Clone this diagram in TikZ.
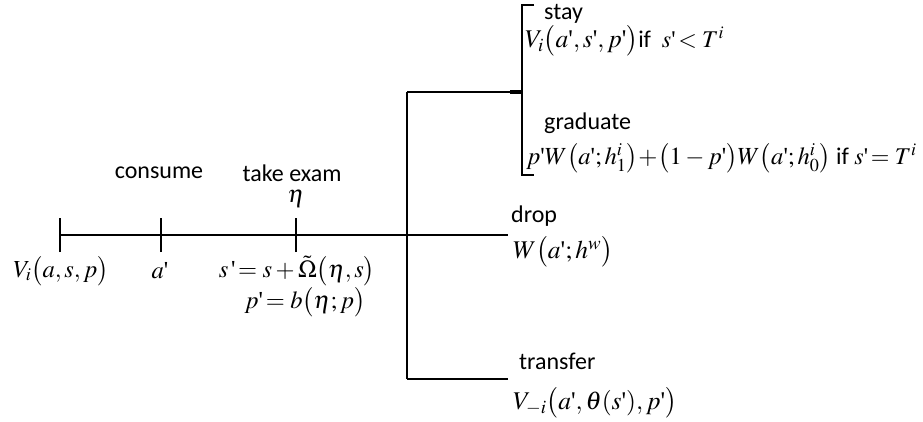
\documentclass[tikz,border=0pt]{standalone}
\usepackage{mathptmx}
\usepackage{fontspec}
\setmainfont{Liberation Serif}
\setsansfont{Carlito}
\newcommand\qq{\textnormal{\textquotesingle}}
\begin{document}
\begin{tikzpicture}[x=1pt,y=-1pt,
  ln/.style={line width=2.6pt},
  lbl/.style={font=\fontsize{24}{26}\selectfont\sffamily, inner sep=0pt},
  rlbl/.style={font=\fontsize{25.5}{27}\selectfont\sffamily, inner sep=0pt, anchor=west},
  mth/.style={font=\fontsize{24.5}{26}\selectfont, inner sep=0pt}]
\useasboundingbox (0,0) rectangle (923,421);
% timeline coordinates
\coordinate (t0) at (60,235);
\coordinate (t1) at (161,235);
\coordinate (t2) at (296,235);
\coordinate (j) at (407,235);
\coordinate (vtop) at (407,92);
\coordinate (vbot) at (407,379);
\coordinate (br) at (522,92);
\coordinate (dropend) at (508,235);
\coordinate (trend) at (508,379);
% lines
\draw[ln] (t0) -- (dropend);
\draw[ln] ([yshift=-17pt]t0) -- ([yshift=17pt]t0);
\draw[ln] ([yshift=-17pt]t1) -- ([yshift=17pt]t1);
\draw[ln] ([yshift=-17pt]t2) -- ([yshift=17pt]t2);
\draw[ln] (vtop) -- (vbot);
\draw[ln] (vtop) -- (br);
\draw[ln] (trend) -- (vbot);
\draw[line width=4pt] ([xshift=-12pt]br) -- (br);
\draw[ln] (534,5) -- (522,5) -- (522,175) -- (534,175);
% left labels
\node[lbl] (consume) at (159,173) {consume};
\node[lbl] (exam) at (292,173) {take exam};
\node[mth] (eta) at (296,199) {$\eta$};
\node[mth] (v0) at (61,271) {$V_i\bigl(a,s,p\bigr)$};
\node[mth] (ap) at (160,271) {$a\qq$};
\node[mth] (sp) at (297,271) {$s\,\qq\!=s+\tilde{\Omega}\bigl(\eta,s\bigr)$};
\node[mth] (pp) at (305,302) {$p\qq\!=b\bigl(\eta;p\bigr)$};
% right labels
\node[lbl, anchor=west] (stay) at (544,14) {stay};
\node[rlbl] (stayf) at (525,41) {$V_i\bigl(a\qq,s\qq,p\qq\bigr)$\fontsize{24}{26}\selectfont if\ \ $s\qq\!<T^i$};
\node[lbl, anchor=west] (grad) at (544,123) {graduate};
\node[rlbl, font=\fontsize{24.6}{26}\selectfont\sffamily] (gradf) at (526,158) {$p\qq W\bigl(a\qq;h_1^i\bigr)\!+\!\bigl(1-p\qq\bigr)W\bigl(a\qq;h_0^i\bigr)$ \fontsize{24}{26}\selectfont if $s\qq\!=T^i$};
\node[lbl, anchor=west] (drop) at (511,216) {drop};
\node[rlbl] (dropf) at (513,252) {$W\bigl(a\qq;h^w\bigr)$};
\node[lbl, anchor=west] (tr) at (519,361) {transfer};
\node[rlbl] (trf) at (513,403) {$V_{-i}\bigl(a\qq,\theta(s\qq),p\qq\bigr)$};
\end{tikzpicture}
\end{document}
